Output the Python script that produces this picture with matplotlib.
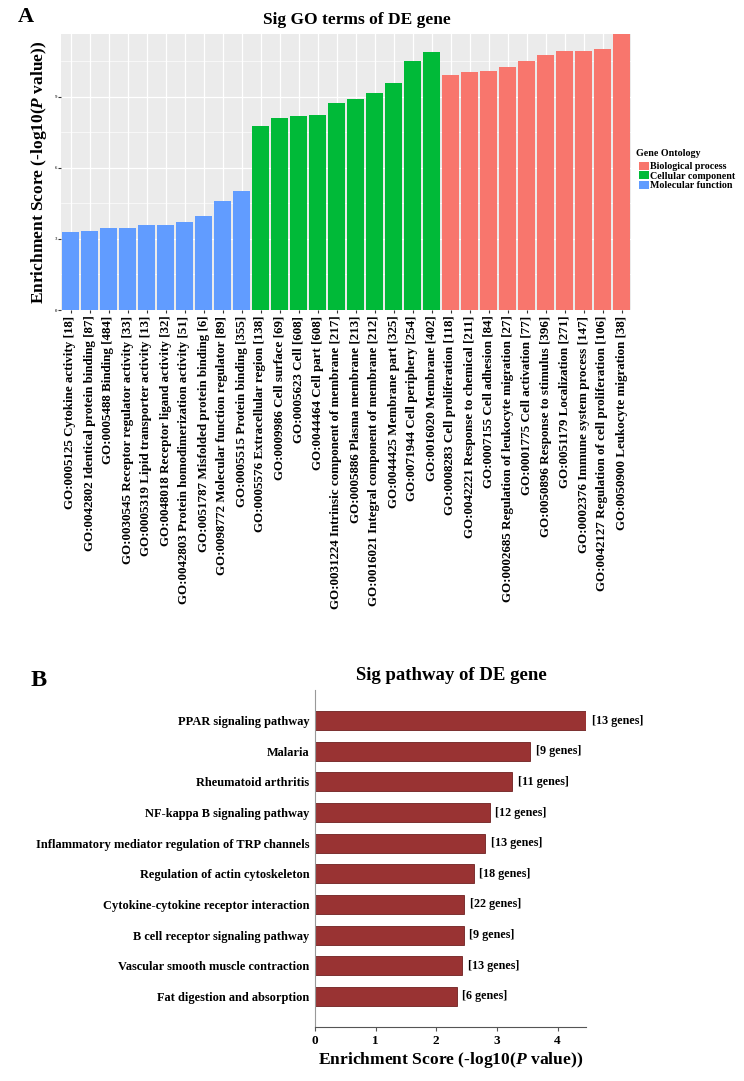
import matplotlib
matplotlib.use("Agg")
import matplotlib.pyplot as plt
from matplotlib.patches import Patch

plt.rcParams["font.family"] = ["Liberation Serif", "DejaVu Serif"]
plt.rcParams["font.weight"] = "bold"
plt.rcParams["mathtext.fontset"] = "custom"
plt.rcParams["mathtext.rm"] = "Liberation Serif:bold"
plt.rcParams["mathtext.it"] = "Liberation Serif:bold:italic"

# ---- panel A data ----
go_labels = [
    "GO:0005125 Cytokine activity [18]",
    "GO:0042802 Identical protein binding [87]",
    "GO:0005488 Binding [484]",
    "GO:0030545 Receptor regulator activity [33]",
    "GO:0005319 Lipid transporter activity [13]",
    "GO:0048018 Receptor ligand activity [32]",
    "GO:0042803 Protein homodimerization activity [51]",
    "GO:0051787 Misfolded protein binding [6]",
    "GO:0098772 Molecular function regulator [89]",
    "GO:0005515 Protein binding [355]",
    "GO:0005576 Extracellular region [138]",
    "GO:0009986 Cell surface [69]",
    "GO:0005623 Cell [608]",
    "GO:0044464 Cell part [608]",
    "GO:0031224 Intrinsic component of membrane [217]",
    "GO:0005886 Plasma membrane [213]",
    "GO:0016021 Integral component of membrane [212]",
    "GO:0044425 Membrane part [325]",
    "GO:0071944 Cell periphery [254]",
    "GO:0016020 Membrane [402]",
    "GO:0008283 Cell proliferation [118]",
    "GO:0042221 Response to chemical [211]",
    "GO:0007155 Cell adhesion [84]",
    "GO:0002685 Regulation of leukocyte migration [27]",
    "GO:0001775 Cell activation [77]",
    "GO:0050896 Response to stimulus [396]",
    "GO:0051179 Localization [271]",
    "GO:0002376 Immune system process [147]",
    "GO:0042127 Regulation of cell proliferation [106]",
    "GO:0050900 Leukocyte migration [38]",
]
go_scores = [3.28, 3.34, 3.45, 3.45, 3.59, 3.59, 3.73, 3.96, 4.61, 5.04,
             7.76, 8.10, 8.18, 8.23, 8.73, 8.93, 9.15, 9.59, 10.52, 10.92,
             9.93, 10.07, 10.10, 10.25, 10.52, 10.77, 10.94, 10.94, 11.04, 11.66]
go_groups = ["MF"] * 10 + ["CC"] * 10 + ["BP"] * 10

group_names = {"BP": "Biological process", "CC": "Cellular component", "MF": "Molecular function"}
group_colors = {"BP": "#F8766D", "CC": "#00BA38", "MF": "#619CFF"}

# ---- panel B data ----
pathways = [
    "PPAR signaling pathway",
    "Malaria",
    "Rheumatoid arthritis",
    "NF-kappa B signaling pathway",
    "Inflammatory mediator regulation of TRP channels",
    "Regulation of actin cytoskeleton",
    "Cytokine-cytokine receptor interaction",
    "B cell receptor signaling pathway",
    "Vascular smooth muscle contraction",
    "Fat digestion and absorption",
]
pathway_scores = [4.47, 3.55, 3.25, 2.88, 2.81, 2.62, 2.46, 2.45, 2.43, 2.34]
pathway_genes = [13, 9, 11, 12, 13, 18, 22, 9, 13, 6]

W, H = 744, 1081
fig = plt.figure(figsize=(W / 100, H / 100), dpi=100)


def fig_rect(left, top, right, bottom):
    return [left / W, 1 - bottom / H, (right - left) / W, (bottom - top) / H]


# ---------------- panel A ----------------
ax1 = fig.add_axes(fig_rect(61, 34, 631, 310))
ax1.set_facecolor("#EBEBEB")
xs = list(range(len(go_labels)))
ax1.bar(xs, go_scores, width=0.9, color=[group_colors[g] for g in go_groups], zorder=3)
ax1.set_xlim(-0.5, len(go_labels) - 0.5)
ax1.set_ylim(0, max(go_scores))
ax1.set_yticks([0, 3, 6, 9])
ax1.set_yticks([1.5, 4.5, 7.5, 10.5], minor=True)
ax1.grid(which="major", color="white", linewidth=0.9, zorder=0)
ax1.grid(which="minor", axis="y", color="white", linewidth=0.45, zorder=0)
for s in ax1.spines.values():
    s.set_visible(False)
ax1.tick_params(axis="y", which="major", labelsize=3.5, labelcolor="#4D4D4D",
                length=2, color="#333333", pad=1)
ax1.tick_params(axis="y", which="minor", length=0)
ax1.tick_params(axis="x", length=2, color="#333333", pad=2)
ax1.set_xticks(xs)
ax1.set_xticklabels(go_labels, rotation=90, fontsize=9.4, fontweight="bold", va="top", ha="center")
fig.text(39 / W, 1 - 172 / H, "Enrichment Score (-log10($\\mathit{P}$ value))", rotation=90,
         ha="center", va="center", fontsize=12.5, fontweight="bold")
fig.text(357 / W, 1 - 20 / H, "Sig GO terms of DE gene", ha="center", va="center",
         fontsize=12.5, fontweight="bold")
fig.text(26 / W, 1 - 17 / H, "A", ha="center", va="center", fontsize=16, fontweight="bold")

# legend: title drawn separately so the gap above the keys matches
fig.text(636 / W, 1 - 154 / H, "Gene Ontology", ha="left", va="center",
         fontsize=7.2, fontweight="bold")
handles = [Patch(facecolor=group_colors[k], label=group_names[k]) for k in ["BP", "CC", "MF"]]
fig.legend(handles=handles, loc="upper left",
           bbox_to_anchor=(639 / W, 1 - 162 / H), frameon=False, fontsize=7.2,
           handlelength=1.0, handleheight=0.85, handletextpad=0.15,
           labelspacing=0.0, borderaxespad=0, borderpad=0)

# ---------------- panel B ----------------
ax2 = fig.add_axes(fig_rect(315, 690, 586, 1027))
ys = list(range(len(pathways)))
ax2.barh(ys, pathway_scores, height=0.62, color="#993333", edgecolor="#6E2020", linewidth=0.6)
ax2.set_ylim(len(pathways), -1)
ax2.set_xlim(0, max(pathway_scores))
ax2.set_yticks(ys)
ax2.set_yticklabels(pathways, fontsize=8.9, fontweight="bold")
ax2.tick_params(axis="y", length=0, pad=4)
ax2.set_xticks([0, 1, 2, 3, 4])
ax2.tick_params(axis="x", labelsize=9.5, length=3, color="#555555", pad=3)
for lbl in ax2.get_xticklabels():
    lbl.set_fontweight("bold")
ax2.spines["top"].set_visible(False)
ax2.spines["right"].set_visible(False)
ax2.spines["left"].set_color("#999999")
ax2.spines["bottom"].set_color("#555555")
for y, v, n in zip(ys, pathway_scores, pathway_genes):
    ax2.annotate(f"[{n} genes]", (v, y), xytext=(4, 0), textcoords="offset points",
                 va="center", ha="left", fontsize=8.7, fontweight="bold", annotation_clip=False)
ax2.set_xlabel("Enrichment Score (-log10($\\mathit{P}$ value))", fontsize=12.6, fontweight="bold", labelpad=2)
fig.text(451 / W, 1 - 675 / H, "Sig pathway of DE gene", ha="center", va="center",
         fontsize=13.5, fontweight="bold")
fig.text(39 / W, 1 - 681 / H, "B", ha="center", va="center", fontsize=17.5, fontweight="bold")

fig.savefig("out.png", dpi=100)
